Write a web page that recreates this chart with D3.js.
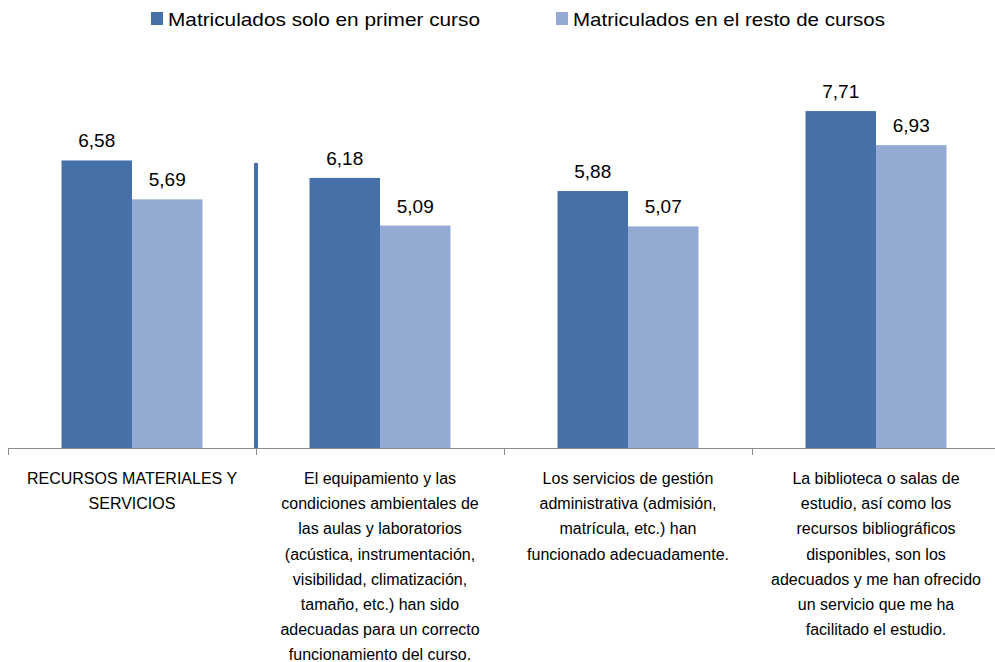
<!DOCTYPE html>
<html>
<head>
<meta charset="utf-8">
<script src="https://cdn.jsdelivr.net/npm/d3@7"></script>
<style>
  body { margin: 0; background: #fff; }
  svg { display: block; font-family: "Liberation Sans", Arial, sans-serif; }
</style>
</head>
<body>
<svg id="chart" width="995" height="662"></svg>
<script>
// data
const categories = [
  "RECURSOS MATERIALES Y SERVICIOS",
  "El equipamiento",
  "Los servicios de gestión",
  "La biblioteca"
];
const categoryLines = [
  ["RECURSOS MATERIALES Y", "SERVICIOS"],
  ["El equipamiento y las", "condiciones ambientales de", "las aulas y laboratorios",
   "(acústica, instrumentación,", "visibilidad, climatización,", "tamaño, etc.) han sido",
   "adecuadas para un correcto", "funcionamiento del curso."],
  ["Los servicios de gestión", "administrativa  (admisión,", "matrícula, etc.) han",
   "funcionado adecuadamente."],
  ["La biblioteca o salas  de", "estudio, así como los", "recursos bibliográficos",
   "disponibles, son los", "adecuados y me  han ofrecido", "un servicio que me ha",
   "facilitado el estudio."]
];
const seriesNames = ["Matriculados solo en primer curso", "Matriculados en el resto de cursos"];
const primerCurso = [6.58, 6.18, 5.88, 7.71];
const restoCursos = [5.69, 5.09, 5.07, 6.93];
const colors = ["#4570a8", "#95aad3"];

const width = 995, height = 662;
const margin = {left: 8, top: 11, bottom: 214};
const catW = 248;
const groupPad = 53.5;

const svg = d3.select("#chart");

const x = d3.scaleBand()
  .domain(categories)
  .range([margin.left, margin.left + catW * categories.length]);

const xs = d3.scaleBand()
  .domain(seriesNames)
  .range([groupPad, catW - groupPad]);

const y = d3.scaleLinear()
  .domain([0, 10])
  .range([height - margin.bottom, margin.top]);

const values = [primerCurso, restoCursos];

// bars
values.forEach((vals, si) => {
  const g = svg.append("g");
  g.selectAll("rect")
    .data(vals)
    .enter()
    .append("rect")
    .attr("x", (d, i) => x(categories[i]) + xs(seriesNames[si]))
    .attr("y", d => y(d))
    .attr("width", xs.bandwidth())
    .attr("height", d => y(0) - y(d))
    .attr("fill", colors[si]);

  g.selectAll("text")
    .data(vals)
    .enter()
    .append("text")
    .text(d => d.toFixed(2).replace(".", ","))
    .attr("x", (d, i) => x(categories[i]) + xs(seriesNames[si]) + xs.bandwidth() / 2)
    .attr("y", d => y(d) - 13)
    .attr("text-anchor", "middle")
    .style("font-size", "19px")
    .style("fill", "#000");
});

// separator line between first group and the rest
svg.append("line")
  .attr("x1", x(categories[1]))
  .attr("x2", x(categories[1]))
  .attr("y1", y(6.52))
  .attr("y2", y(0))
  .attr("stroke", colors[0])
  .attr("stroke-width", 4);

// axis
svg.append("line")
  .attr("x1", margin.left)
  .attr("x2", width)
  .attr("y1", y(0) + 0.5)
  .attr("y2", y(0) + 0.5)
  .attr("stroke", "#8c8c8c")
  .attr("stroke-width", 1);

svg.selectAll(".tick")
  .data(categories)
  .enter()
  .append("line")
  .attr("class", "tick")
  .attr("x1", d => x(d) + 0.5)
  .attr("x2", d => x(d) + 0.5)
  .attr("y1", y(0))
  .attr("y2", y(0) + 7)
  .attr("stroke", "#8c8c8c");

// category labels
categories.forEach((c, i) => {
  const t = svg.append("text")
    .attr("text-anchor", "middle")
    .style("font-size", "16px")
    .style("fill", "#000");
  t.selectAll("tspan")
    .data(categoryLines[i])
    .enter()
    .append("tspan")
    .attr("x", x(c) + catW / 2)
    .attr("y", (d, j) => 484 + j * 25.2)
    .text(d => d);
});

// legend
const legendX = [151, 556];
seriesNames.forEach((s, i) => {
  svg.append("rect")
    .attr("x", legendX[i])
    .attr("y", 12)
    .attr("width", 12)
    .attr("height", 13)
    .attr("fill", colors[i]);
  svg.append("text")
    .attr("x", legendX[i] + 17)
    .attr("y", 26)
    .attr("textLength", 312)
    .attr("lengthAdjust", "spacingAndGlyphs")
    .style("font-size", "19px")
    .style("fill", "#000")
    .text(s);
});
</script>
</body>
</html>
